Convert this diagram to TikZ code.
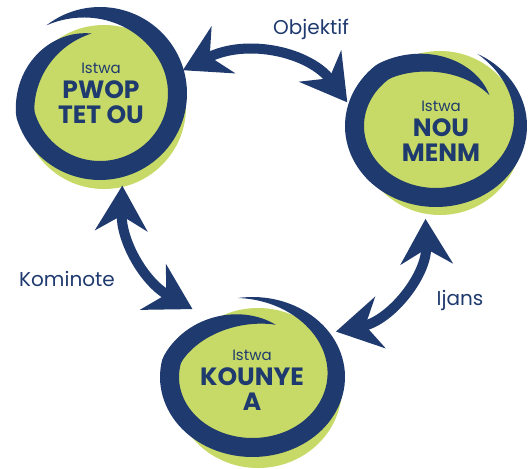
\documentclass[tikz,border=0pt]{standalone}
\usepackage{fontspec}
\setmainfont{Poppins}
\usetikzlibrary{arrows.meta,shapes.geometric}

\definecolor{navy}{HTML}{1F3A6E}
\definecolor{lime}{HTML}{C7DA67}
\newcommand\istwa{{\fontsize{15}{15}\selectfont\mdseries Istwa}}

\begin{document}
\begin{tikzpicture}[x=1pt, y=1pt,
    declare function={
      ease(\t)=\t*(2-\t);
      rout(\s)=1-1.2*max(0,\s-0.75);
    },
    stage/.style={ellipse, inner sep=0pt, outer sep=8pt, align=center, text=navy,
      font=\fontsize{25}{25}\selectfont\bfseries},
    cyclearrow/.style={navy, line width=10pt,
      {Stealth[length=45pt,width=52pt,inset=15pt]}-{Stealth[length=45pt,width=52pt,inset=15pt]}},
    lbl/.style={anchor=base, text=navy, font=\fontsize{20}{20}\selectfont}
  ]
  \useasboundingbox (0,0) rectangle (532,-468);

  % Green discs, each with a navy swoosh spiralling round it
  \foreach \gx/\gy/\grx/\gry/\cx/\cy/\rx/\ry/\a/\ramp in {
      104/-107/82/82/100/-93.5/87/86.5/128/0.25,
      440/-133/82/82/436/-126/91/81/63/0.35,
      258/-388/84/80/252.5/-377/92.5/80/99/0.35
  } {
    \fill[lime] (\gx,\gy) ellipse [x radius=\grx, y radius=\gry];
    \fill[navy] plot[domain=0:1, samples=120, variable=\s]
        ({\cx+\rx*rout(\s)*cos(\a-390*\s)}, {\cy+\ry*rout(\s)*sin(\a-390*\s)})
      -- plot[domain=1:0, samples=120, variable=\s]
        ({\cx+(\rx*rout(\s)-19*ease(min(1,\s/\ramp))*ease(min(1,(1-\s)/0.22)))*cos(\a-390*\s)},
         {\cy+(\ry*rout(\s)-19*ease(min(1,\s/\ramp))*ease(min(1,(1-\s)/0.22)))*sin(\a-390*\s)})
      -- cycle;
  }

  % Stages
  \node[stage, minimum width=174pt, minimum height=173pt] (pwop) at (101,-93.5) {\istwa\\PWOP\\TET OU};
  \node[stage, minimum width=182pt, minimum height=162pt] (noumenm) at (441,-131) {\istwa\\NOU\\MENM};
  \node[stage, minimum width=185pt, minimum height=160pt] (kounye) at (252,-380) {\istwa\\KOUNYE\\A};

  % Links between stages
  \draw[cyclearrow, shorten <=-10pt] (pwop.17) to[bend left=40] (noumenm.163);
  \draw[cyclearrow] (pwop.-77) to[bend right=31] (kounye.130);
  \draw[cyclearrow] (noumenm.-100) to[bend left=40] (kounye.30);

  \node[lbl] (objektif) at (311,-35) {Objektif};
  \node[lbl] (kominote) at (67,-286) {Kominote};
  \node[lbl] (ijans) at (460,-305) {Ijans};
\end{tikzpicture}
\end{document}
